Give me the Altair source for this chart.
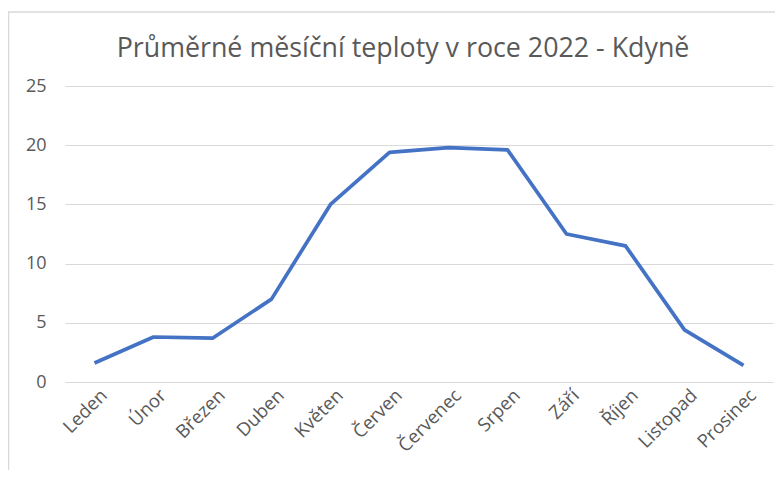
import altair as alt
import pandas as pd

months = ["Leden", "Únor", "Březen", "Duben", "Květen", "Červen",
          "Červenec", "Srpen", "Září", "Říjen", "Listopad", "Prosinec"]
temps = [1.6, 3.8, 3.7, 7.0, 15.0, 19.4, 19.8, 19.6, 12.5, 11.5, 4.4, 1.4]
y_ticks = [0, 5, 10, 15, 20, 25]
title_text = "Průměrné měsíční teploty v roce 2022 - Kdyně"

W, H = 708, 296
FONT = "Open Sans"
GRAY = "#595959"

df = pd.DataFrame({"month": months, "temp": temps})
one = pd.DataFrame({"t": [title_text]})

frame = alt.Chart(one).mark_rect(
    fillOpacity=0, stroke="#d9d9d9", strokeWidth=1.5
).encode(
    x=alt.value(-56.5), x2=alt.value(W + 100),
    y=alt.value(-74), y2=alt.value(H + 200)
)

title = alt.Chart(one).mark_text(
    font=FONT, fontSize=26.8, color=GRAY, align="center", baseline="alphabetic"
).encode(
    text="t:N", x=alt.value(338), y=alt.value(-29)
)

line = alt.Chart(df).mark_line(color="#4472C4", strokeWidth=3.7, strokeJoin="round").encode(
    x=alt.X("month:N", sort=months,
            scale=alt.Scale(type="point", padding=0.5),
            axis=alt.Axis(title=None, labelAngle=-45, labelAlign="right",
                          labelBaseline="middle", labelPadding=10, labelOffset=9,
                          labelFont=FONT, labelFontSize=18.5, labelColor=GRAY,
                          domain=False, ticks=False, grid=False)),
    y=alt.Y("temp:Q", scale=alt.Scale(domain=[0, 25], nice=False),
            axis=alt.Axis(title=None, values=y_ticks, labelFont=FONT,
                          labelFontSize=18, labelColor=GRAY, labelPadding=19,
                          domain=False, ticks=False, grid=True,
                          gridColor="#d9d9d9", gridWidth=1.2))
)

chart = alt.layer(frame, title, line).properties(
    width=W, height=H,
    autosize=alt.AutoSizeParams(type="none"),
    padding={"left": 57, "top": 78, "right": 2, "bottom": 88},
).configure_view(stroke=None)

chart.save("out.html", embed_options={"renderer": "svg", "actions": False})
